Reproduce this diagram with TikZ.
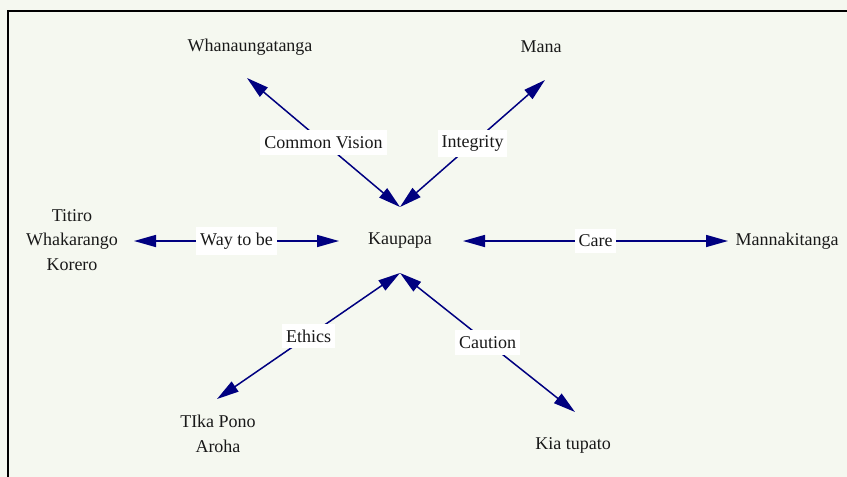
\documentclass[tikz,border=0pt]{standalone}
\usepackage{fontspec}
\setmainfont{Liberation Serif}
\usetikzlibrary{arrows.meta}
\definecolor{bgc}{RGB}{245,248,240}
\definecolor{arrc}{RGB}{0,0,128}
\tikzset{
  txt/.style={inner sep=0pt, align=center, font=\fontsize{18}{24.5}\selectfont, text=black!90},
  lbl/.style={fill=white, inner xsep=4pt, inner ysep=6pt, font=\fontsize{18}{21}\selectfont, text=black!90},
  conn/.style={draw=arrc, line width=1.5pt, {Triangle[length=22pt,width=12pt]}-{Triangle[length=22pt,width=12pt]}, fill=arrc}
}
\begin{document}
\begin{tikzpicture}[x=1pt,y=-1pt]
\fill[bgc] (0,0) rectangle (847,477);
\useasboundingbox (0,0) rectangle (847,477);
\draw[line width=1.6pt] (8,477) -- (8,11) -- (847,11);

% nodes
\node[txt] (kau) at (400,241) {Kaupapa};
\node[txt] (wha) at (250,47) {Whanaungatanga};
\node[txt] (mana) at (541,47) {Mana};
\node[txt] (tit) at (72,240) {Titiro\\Whakarango\\Korero};
\node[txt] (man) at (787,241) {Mannakitanga};
\node[txt] (tik) at (218,434) {TIka Pono\\Aroha};
\node[txt] (kia) at (573,445) {Kia tupato};

% arrow tips
\coordinate (kT) at (400,207);
\coordinate (kB) at (400,273);
\coordinate (kL) at (339,241);
\coordinate (kR) at (463,241);
\coordinate (whaT) at (247,78);
\coordinate (manaT) at (545,80);
\coordinate (titT) at (134,241);
\coordinate (manT) at (728,241);
\coordinate (tikT) at (217,399);
\coordinate (kiaT) at (575,412);

% connectors
\draw[conn] (whaT) -- node[lbl] {Common Vision} (kT);
\draw[conn] (manaT) -- node[lbl] {Integrity} (kT);
\draw[conn] (titT) -- node[lbl] {Way to be} (kL);
\draw[conn] (kR) -- node[lbl] {Care} (manT);
\draw[conn] (tikT) -- node[lbl] {Ethics} (kB);
\draw[conn] (kiaT) -- node[lbl] {Caution} (kB);
\end{tikzpicture}
\end{document}
